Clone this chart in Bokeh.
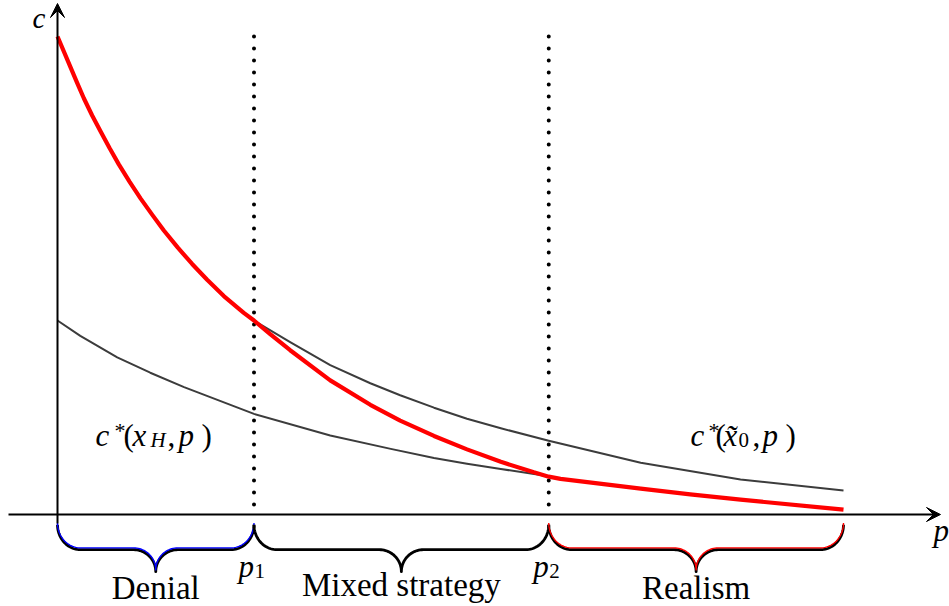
import numpy as np
from bokeh.plotting import figure
from bokeh.models import Range1d, Arrow, VeeHead
from bokeh.core.properties import value
from bokeh.embed import file_html
from bokeh.resources import INLINE

# ---------------- data ----------------
p1 = 0.25
p2 = 0.625
p_end = 1.0

# red: equilibrium cost curve
p_red = [0.0, 0.0165, 0.025, 0.0335, 0.0441, 0.0547, 0.0662, 0.078, 0.0916, 0.1056,
         0.1204, 0.1353, 0.1531, 0.1713, 0.1904, 0.2116, 0.237, 0.25,
         0.271, 0.296, 0.347, 0.398, 0.436, 0.479, 0.521, 0.564, 0.606, 0.625,
         0.640, 0.742, 0.805, 0.869, 1.0]
c_red = [0.998, 0.934, 0.901, 0.869, 0.833, 0.800, 0.765, 0.731, 0.695, 0.660,
         0.626, 0.593, 0.557, 0.523, 0.490, 0.456, 0.421, 0.405,
         0.376, 0.343, 0.280, 0.229, 0.196, 0.164, 0.136, 0.110, 0.088, 0.079,
         0.0745, 0.054, 0.042, 0.031, 0.010]

# gray: c*(x_H, p), drawn from 0 to p2
p_xh = [0.0, 0.029, 0.076, 0.118, 0.161, 0.25, 0.347, 0.424, 0.479, 0.521, 0.564, 0.625]
c_xh = [0.405, 0.373, 0.328, 0.296, 0.266, 0.210, 0.165, 0.137, 0.118, 0.106, 0.095, 0.080]

# gray: c*(x~0, p), drawn from p1 to the end
p_x0 = [0.25, 0.296, 0.347, 0.398, 0.436, 0.479, 0.521, 0.564, 0.625, 0.742, 0.869, 1.0]
c_x0 = [0.405, 0.360, 0.312, 0.274, 0.249, 0.223, 0.200, 0.180, 0.154, 0.108, 0.073, 0.050]

regions = ["Denial", "Mixed strategy", "Realism"]
region_bounds = [(0.0, p1), (p1, p2), (p2, p_end)]
region_colors = ["#0000ff", "#000000", "#ff0000"]

# ---------------- layout ----------------
W, H = 949, 606
SX, SY = 786.0, 479.0          # pixels per data unit
OX, OY = 57.0, 514.0           # origin position inside the canvas (px)
PX, PY = 1.0 / SX, 1.0 / SY
TEXT_SHIFT = -8                # baseline correction (px)

p = figure(width=W, height=H,
           x_range=Range1d(-OX / SX, (W - OX) / SX),
           y_range=Range1d(-(H - OY) / SY, OY / SY),
           output_backend="svg", toolbar_location=None,
           x_axis_type=None, y_axis_type=None, min_border=0)
p.outline_line_color = None
p.background_fill_color = "white"
p.border_fill_color = "white"

# axes with arrow heads
p.add_layout(Arrow(end=VeeHead(size=14, fill_color="black", line_color="black", line_width=1),
                   x_start=-49 * PX, y_start=0, x_end=883 * PX, y_end=0,
                   line_width=2, line_color="black"))
p.add_layout(Arrow(end=VeeHead(size=14, fill_color="black", line_color="black", line_width=1),
                   x_start=0, y_start=-9 * PY, x_end=0, y_end=511 * PY,
                   line_width=2, line_color="black"))

# dotted verticals
for xv in (p1, p2):
    p.line([xv, xv], [c_red[0], 0], line_color="black", line_width=4,
           line_dash="0 12", line_cap="round")

# curves
gray = "#3c3c3c"
p.line(p_xh, c_xh, line_color=gray, line_width=2, line_join="round")
p.line(p_x0, c_x0, line_color=gray, line_width=2, line_join="round")
p.line(p_red, c_red, line_color="#ff0000", line_width=4.2, line_join="round")


# braces
def bez(a, b, c, d, n=24):
    t = np.linspace(0, 1, n)[:, None]
    a, b, c, d = (np.array(v, dtype=float) for v in (a, b, c, d))
    return (1 - t) ** 3 * a + 3 * (1 - t) ** 2 * t * b + 3 * (1 - t) * t ** 2 * c + t ** 3 * d


def brace(xa, xb):
    A, B = xa * SX, xb * SX
    M = (A + B) / 2
    y0, y1, y2 = 9.0, 34.0, 56.0
    ae, am, k = 23.0, 22.0, 0.552
    segs = [
        bez((A, y0), (A, y0 + k * (y1 - y0)), (A + ae * (1 - k), y1), (A + ae, y1)),
        bez((M - am, y1), (M - am + k * am, y1), (M, y2 - k * (y2 - y1)), (M, y2)),
        bez((M, y2), (M, y2 - k * (y2 - y1)), (M + am - k * am, y1), (M + am, y1)),
        bez((B - ae, y1), (B - ae * (1 - k), y1), (B, y0 + k * (y1 - y0)), (B, y0)),
    ]
    pts = np.vstack(segs)
    return pts[:, 0] / SX, -pts[:, 1] / SY


FONT = value("Liberation Serif")


def put(x, y, s, size=31, style="normal", dx=0, dy=0, align="left"):
    p.text(x=[x], y=[y], text=[s], x_offset=dx, y_offset=dy + TEXT_SHIFT, text_font=FONT,
           text_font_size=value(f"{size}px"), text_font_style=style,
           text_align=align, text_baseline="alphabetic", text_color="black")


label_dy = [-81, -78, -81]
for (xa, xb), name, col, ldy in zip(region_bounds, regions, region_colors, label_dy):
    bx, by = brace(xa, xb)
    p.line(bx, by - 1.2 * PY, line_color="black", line_width=2.8, line_join="round")
    if col != "#000000":
        p.line(bx, by + 0.6 * PY, line_color=col, line_width=1.4, line_join="round")
    put((xa + xb) / 2, ldy * PY, name, size=33, align="center")

# axis labels
put(-25 * PX, 489 * PY, "c", size=29, style="italic")
put(876 * PX, -24 * PY, "p", style="italic")

# p1, p2 labels
for xv, sub in ((p1, "1"), (p2, "2")):
    put(xv, -60 * PY, "p", style="italic", dx=-15.5)
    put(xv, -60 * PY, sub, size=21, dx=0.5, dy=4)


# curve labels
def cstar(x, pieces):
    for dx, s, size, style, dy in pieces:
        put(x, 71 * PY, s, size=size, style=style, dx=dx, dy=dy)


cstar(38 * PX, [(0, "c", 31, "italic", 0), (19, "*", 22, "normal", -5),
                (28, "(", 31, "normal", 0), (37, "x", 31, "italic", 0),
                (55, "H", 21, "italic", 4), (72, ",", 31, "normal", 0),
                (83, "p", 31, "italic", 0), (106, ")", 31, "normal", 0)])
cstar(633 * PX, [(0, "c", 31, "italic", 0), (18, "*", 22, "normal", -5),
                 (25, "(", 31, "normal", 0), (33, "x\u0303", 31, "italic", 0),
                 (48, "0", 21, "normal", 4), (62, ",", 31, "normal", 0),
                 (72, "p", 31, "italic", 0), (95, ")", 31, "normal", 0)])

open("out.html", "w").write(file_html(p, INLINE))
